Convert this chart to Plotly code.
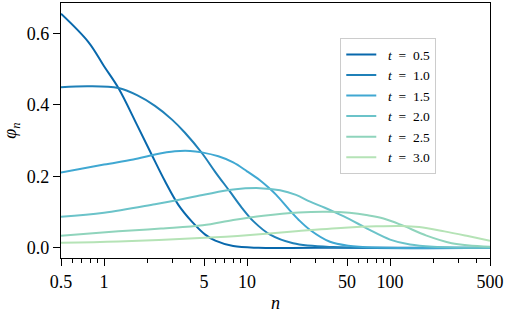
import plotly.graph_objects as go

# ---- data ----
t_values = ["0.5", "1.0", "1.5", "2.0", "2.5", "3.0"]

n_t05 = [0.5, 0.78, 1.0, 1.26, 1.7, 2.15, 2.67, 3.3, 4.1, 5.1, 6.0, 8.0, 12, 30, 500]
phi_t05 = [0.655, 0.575, 0.508, 0.447, 0.344, 0.261, 0.186, 0.121, 0.074, 0.037, 0.020, 0.005, 0.0, 0.0, 0.0]

n_t10 = [0.5, 0.78, 1.26, 1.7, 2.27, 3.0, 3.68, 4.82, 6.0, 7.6, 9.2, 11.1, 14.5, 21, 40, 500]
phi_t10 = [0.449, 0.452, 0.447, 0.427, 0.397, 0.358, 0.322, 0.266, 0.212, 0.157, 0.112, 0.074, 0.037, 0.013, 0.002, 0.0]

n_t15 = [0.5, 1.0, 1.6, 2.27, 3.13, 4.0, 4.82, 6.3, 8.0, 10.0, 12.3, 14.0, 16, 19.5, 23, 27.6, 38, 51, 80, 500]
phi_t15 = [0.211, 0.233, 0.247, 0.261, 0.270, 0.271, 0.267, 0.256, 0.239, 0.214, 0.189, 0.170, 0.148, 0.109, 0.078, 0.050, 0.017, 0.006, 0.001, 0.0]

n_t20 = [0.5, 1.0, 2.27, 3.5, 5.08, 8.0, 12.3, 17, 22, 27.6, 35, 42.4, 52, 62, 72, 100, 138, 200, 500]
phi_t20 = [0.087, 0.098, 0.122, 0.136, 0.149, 0.163, 0.167, 0.161, 0.148, 0.129, 0.112, 0.097, 0.080, 0.064, 0.050, 0.023, 0.009, 0.003, 0.0]

n_t25 = [0.5, 1.26, 2.5, 4.9, 8.0, 13, 23, 36, 52, 70, 90, 120, 180, 270, 500]
phi_t25 = [0.034, 0.046, 0.054, 0.063, 0.078, 0.090, 0.099, 0.101, 0.098, 0.091, 0.082, 0.064, 0.034, 0.013, 0.003]

n_t30 = [0.5, 1.26, 5.08, 10.5, 23, 48, 80, 120, 160, 240, 350, 500]
phi_t30 = [0.014, 0.018, 0.028, 0.036, 0.047, 0.056, 0.060, 0.061, 0.058, 0.046, 0.033, 0.020]

x_tickvals = [0.5, 1, 5, 10, 50, 100, 500]
x_ticktext = ["0.5", "1", "5", "10", "50", "100", "500"]
x_minor = [0.6, 0.7, 0.8, 0.9, 2, 3, 4, 6, 7, 8, 9, 20, 30, 40, 60, 70, 80, 90, 200, 300, 400]
y_tickvals = [0.0, 0.2, 0.4, 0.6]
y_ticktext = ["0.0", "0.2", "0.4", "0.6"]

colors = ["#0868ac", "#1f80b8", "#40a8d2", "#6bc3c9", "#8fd4bc", "#b5e3b6"]

series = [(n_t05, phi_t05), (n_t10, phi_t10), (n_t15, phi_t15),
          (n_t20, phi_t20), (n_t25, phi_t25), (n_t30, phi_t30)]

FONT = "Liberation Serif"
SP = "\u2002"

fig = go.Figure()
for (xs, ys), tv, col in zip(series, t_values, colors):
    fig.add_trace(go.Scatter(
        x=xs, y=ys, mode="lines", name=f"{SP}<i>t</i>{SP}={SP}{tv}",
        line=dict(color=col, width=2, shape="spline", smoothing=1.0),
    ))

axis_common = dict(showline=True, linecolor="black", linewidth=1.3, mirror=True,
                   showgrid=False, zeroline=False, ticks="outside", tickcolor="black",
                   tickwidth=1.2, ticklen=7,
                   tickfont=dict(family=FONT, size=18, color="black"))

fig.update_xaxes(type="log", range=[-0.30103, 2.69897], tickmode="array",
                 tickvals=x_tickvals, ticktext=x_ticktext,
                 minor=dict(tickmode="array", tickvals=x_minor, ticks="outside",
                            ticklen=4, tickwidth=1, tickcolor="black"),
                 title=dict(text="<i>n</i>", font=dict(family=FONT, size=18, color="black"),
                            standoff=5),
                 **axis_common)
fig.update_yaxes(range=[-0.0285, 0.685], tickmode="array",
                 tickvals=y_tickvals, ticktext=y_ticktext,
                 title=dict(text="<i>φ</i><sub><i>n</i></sub>",
                            font=dict(family=FONT, size=18, color="black"), standoff=11),
                 **axis_common)

fig.update_layout(
    width=507, height=313,
    margin=dict(l=61, r=17, t=3, b=55),
    paper_bgcolor="white", plot_bgcolor="white",
    showlegend=True,
    legend=dict(x=0.651, y=0.862, xanchor="left", yanchor="top",
                bgcolor="rgba(255,255,255,0.8)", bordercolor="#cccccc", borderwidth=1,
                font=dict(family=FONT, size=13.5, color="black"),
                tracegroupgap=0, itemwidth=30),
)

fig.write_html("out.html")
